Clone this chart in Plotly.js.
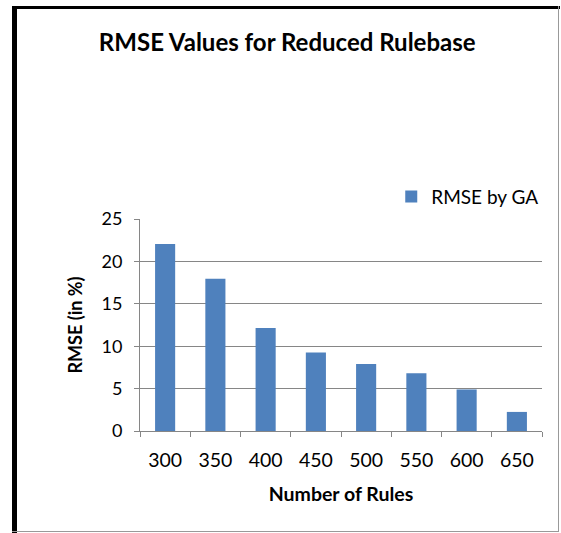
<!DOCTYPE html>
<html><head><meta charset="utf-8">
<script src="https://cdn.plot.ly/plotly-3.0.1.min.js"></script>
<style>
html,body{margin:0;padding:0;background:#fff;}
#wrap{position:relative;width:561px;height:533px;}
#chart{position:absolute;left:0;top:0;width:561px;height:533px;}
.b{position:absolute;}
</style></head><body>
<div id="wrap">
<div id="chart"></div>
<div class="b" style="left:12px;top:6px;width:5px;height:527px;background:#000"></div>
<div class="b" style="left:12px;top:6px;width:548px;height:3px;background:#000"></div>
<div class="b" style="left:558px;top:6px;width:1px;height:526px;background:#999"></div>
<div class="b" style="left:12px;top:531px;width:547px;height:1px;background:#999"></div>
</div>
<script>
const categories = ["300","350","400","450","500","550","600","650"];
const rmseByGA = [22.05, 17.95, 12.15, 9.25, 7.9, 6.8, 4.9, 2.25];
const seriesName = "RMSE by GA";
const yTicks = [0,5,10,15,20,25];
const font = "Lato, 'Open Sans', sans-serif";

const traces = [
  {type:'bar', x:categories, y:rmseByGA, name:seriesName, marker:{color:'#4F81BD'}}
];
const layout = {
  width:561, height:533,
  paper_bgcolor:'#fff', plot_bgcolor:'#fff',
  margin:{l:140,r:19,t:219,b:102},
  font:{family:font, color:'#000', size:17},
  title:{text:'<b>RMSE Values for Reduced Rulebase</b>', font:{family:font,size:24,color:'#000'}, x:0.512, xanchor:'center', xref:'container', y:0.921, yanchor:'middle', yref:'container'},
  bargap:0.6,
  showlegend:true,
  legend:{x:0.625, xanchor:'left', y:1.105, yanchor:'middle', font:{family:font,size:19,color:'#000'}, bgcolor:'rgba(0,0,0,0)', itemwidth:30},
  xaxis:{type:'category', ticks:'outside', tickson:'boundaries', ticklen:5, tickcolor:'#868686', showline:true, linecolor:'#868686', linewidth:1, showgrid:false, zeroline:false, ticklabelstandoff:12,
    tickfont:{family:font,size:19.5,color:'#000'},
    title:{text:'<b>Number of Rules</b>', font:{family:font,size:19.5,color:'#000'}, standoff:16}},
  yaxis:{range:[0,25], tickvals:yTicks, ticks:'outside', ticklen:5, tickcolor:'#868686', showline:true, linecolor:'#868686', linewidth:1, showgrid:true, gridcolor:'#868686', gridwidth:1, zeroline:false, ticklabelstandoff:8,
    tickfont:{family:font,size:18,color:'#000'},
    title:{text:'<b>RMSE (in %)</b>', font:{family:font,size:18,color:'#000'}, standoff:14}}
};
Plotly.newPlot('chart', traces, layout, {displayModeBar:false, staticPlot:true});
</script>
</body></html>
